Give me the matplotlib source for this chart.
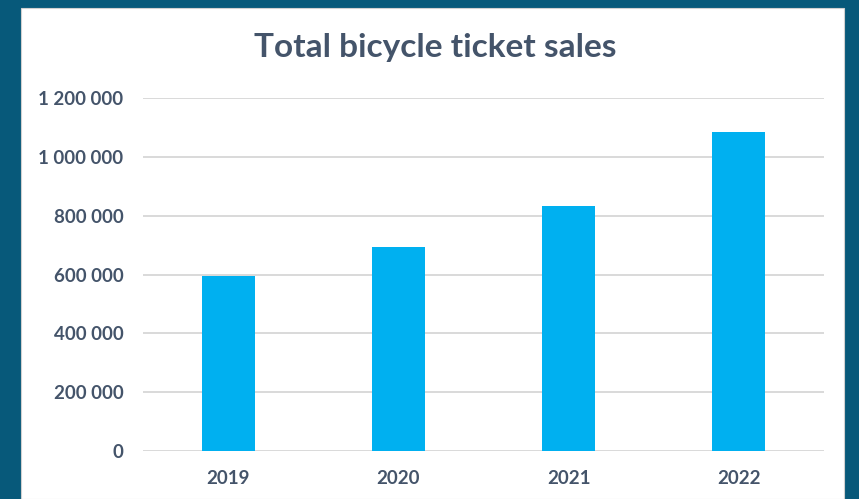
import matplotlib.pyplot as plt
from matplotlib.patches import Rectangle
from matplotlib.ticker import FuncFormatter

years = ['2019', '2020', '2021', '2022']
sales = [596000, 695000, 832000, 1083000]
yticks = [0, 200000, 400000, 600000, 800000, 1000000, 1200000]

text_col = '#44546a'
bar_col = '#00b0f0'

plt.rcParams['font.family'] = ['Lato', 'DejaVu Sans']

fig = plt.figure(figsize=(8.59, 4.99), dpi=100)
fig.patch.set_facecolor('#07597a')

# white card behind the chart
fig.patches.append(Rectangle((21 / 859, 0), 823 / 859, 491 / 499,
                             transform=fig.transFigure, facecolor='white',
                             edgecolor='#d0d0d0', linewidth=0.8, zorder=-5))

ax = fig.add_axes([143 / 859, 1 - 451 / 499, 681 / 859, 353 / 499])
ax.set_facecolor('none')
ax.set_zorder(2)

x = range(len(years))
ax.bar(x, sales, width=0.31, color=bar_col, zorder=3)

ax.set_xlim(-0.5, len(years) - 0.5)
ax.set_ylim(0, 1200000)
ax.set_yticks(yticks)
ax.yaxis.set_major_formatter(FuncFormatter(lambda v, p: f'{int(v):,}'.replace(',', ' ')))
ax.set_xticks(list(x))
ax.set_xticklabels(years)

ax.grid(axis='y', color='#d9d9d9', linewidth=1.4, zorder=0)
for s in ax.spines.values():
    s.set_visible(False)
ax.tick_params(length=0, colors=text_col, labelsize=13.5)
ax.tick_params(axis='y', pad=14)
ax.tick_params(axis='x', pad=14)
for lbl in ax.get_xticklabels() + ax.get_yticklabels():
    lbl.set_fontweight('bold')

fig.text(435 / 859, 1 - 48 / 499, 'Total bicycle ticket sales', ha='center', va='center',
         fontsize=24, fontweight='bold', color=text_col, zorder=5)

fig.savefig('out.png', dpi=100, facecolor=fig.get_facecolor())
